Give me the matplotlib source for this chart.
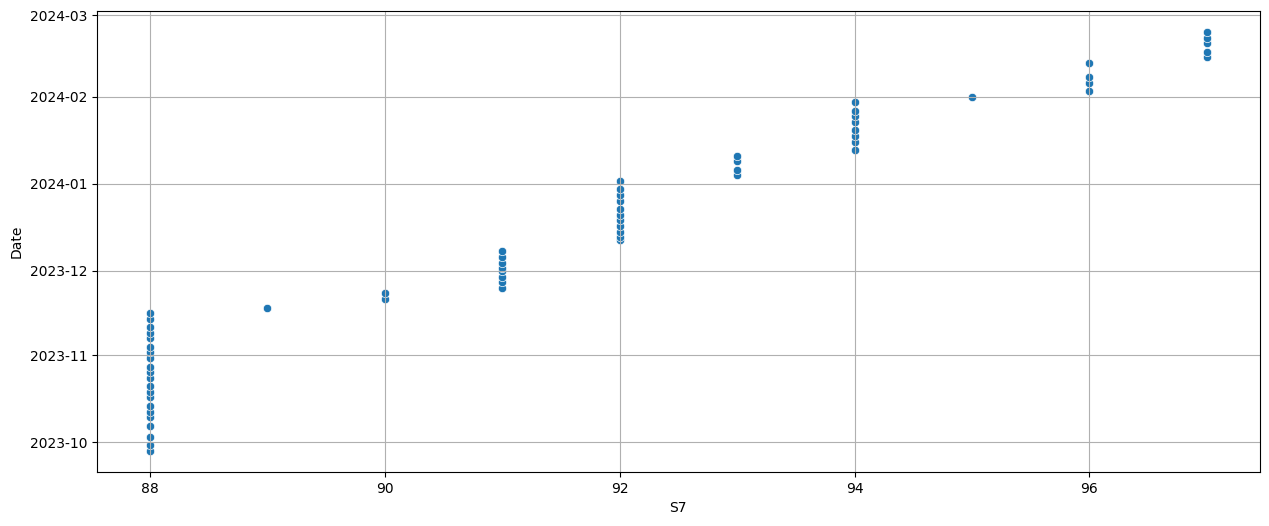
import matplotlib
matplotlib.use("Agg")
import matplotlib.pyplot as plt
import pandas as pd
import seaborn as sns

# S7 value and the dates
s7_88 = ["2023-09-28", "2023-09-30", "2023-10-03", "2023-10-07", "2023-10-10",
         "2023-10-12", "2023-10-14", "2023-10-17", "2023-10-19", "2023-10-21",
         "2023-10-24", "2023-10-26", "2023-10-28", "2023-10-31", "2023-11-02",
         "2023-11-04", "2023-11-07", "2023-11-09", "2023-11-11", "2023-11-14",
         "2023-11-16"]
s7_89 = ["2023-11-18"]
s7_90 = ["2023-11-21", "2023-11-23"]
s7_91 = ["2023-11-25", "2023-11-27", "2023-11-29", "2023-12-01", "2023-12-02",
         "2023-12-04", "2023-12-06", "2023-12-08"]
s7_92 = ["2023-12-12", "2023-12-13", "2023-12-15", "2023-12-17", "2023-12-19",
         "2023-12-21", "2023-12-23", "2023-12-26", "2023-12-28", "2023-12-30",
         "2024-01-02"]
s7_93 = ["2024-01-04", "2024-01-06", "2024-01-09", "2024-01-11"]
s7_94 = ["2024-01-13", "2024-01-16", "2024-01-18", "2024-01-20", "2024-01-23",
         "2024-01-25", "2024-01-27", "2024-01-30"]
s7_95 = ["2024-02-01"]
s7_96 = ["2024-02-03", "2024-02-06", "2024-02-08", "2024-02-13"]
s7_97 = ["2024-02-15", "2024-02-17", "2024-02-20", "2024-02-22", "2024-02-24"]

groups = {88: s7_88, 89: s7_89, 90: s7_90, 91: s7_91, 92: s7_92,
          93: s7_93, 94: s7_94, 95: s7_95, 96: s7_96, 97: s7_97}

rows = []
for s7, dates in groups.items():
    for d in dates:
        rows.append({"S7": s7, "Date": pd.Timestamp(d)})
df = pd.DataFrame(rows)

fig, ax = plt.subplots(figsize=(12.69, 5.26), dpi=100)
fig.subplots_adjust(left=0.0764, right=0.9927, top=0.979, bottom=0.103)

sns.scatterplot(data=df, x="S7", y="Date", ax=ax)
ax.grid(True)

fig.savefig("out.png", dpi=100)
